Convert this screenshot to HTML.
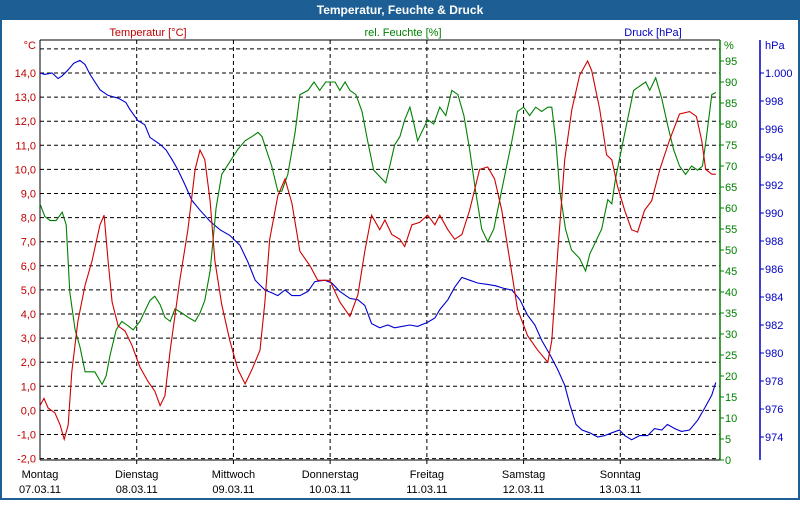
<!DOCTYPE html>
<html><head><meta charset="utf-8"><style>
body{margin:0;width:800px;height:500px;overflow:hidden;background:#fff;font-family:"Liberation Sans",sans-serif}
</style></head><body>
<svg id="chart" width="800" height="500" xmlns="http://www.w3.org/2000/svg" font-family="Liberation Sans, sans-serif" font-size="11">
<rect x="0" y="0" width="800" height="500" fill="#fff"/>
<rect x="1" y="1" width="798" height="498" fill="none" stroke="#1d5f94" stroke-width="2"/>
<rect x="0" y="0" width="800" height="20" fill="#1d5f94"/>
<text x="400" y="14" fill="#fff" font-weight="bold" font-size="12" text-anchor="middle">Temperatur, Feuchte &amp; Druck</text>
<text x="148" y="36" fill="#c00000" text-anchor="middle">Temperatur [°C]</text>
<text x="403" y="36" fill="#008000" text-anchor="middle">rel. Feuchte [%]</text>
<text x="653" y="36" fill="#0000c0" text-anchor="middle">Druck [hPa]</text>
<g id="grid"></g>
<g id="axes"></g>
<g id="series"></g>
</svg>
<script>
const dayNames=["Montag","Dienstag","Mittwoch","Donnerstag","Freitag","Samstag","Sonntag"];
const dayDates=["07.03.11","08.03.11","09.03.11","10.03.11","11.03.11","12.03.11","13.03.11"];
const tempTicks=[-2,-1,0,1,2,3,4,5,6,7,8,9,10,11,12,13,14];
const humTicks=[0,5,10,15,20,25,30,35,40,45,50,55,60,65,70,75,80,85,90,95];
const presTicks=[974,976,978,980,982,984,986,988,990,992,994,996,998,1000];
const tempHours=[0,1,2,3.7,5,6,7,7.9,9.4,11.2,12.9,14.9,15.9,16.9,17.9,19.4,21.1,22.8,24.8,26.8,28.5,29.8,31,32.3,34.7,36.7,38.5,39.7,40.9,42.2,43.4,45.1,47.1,49.1,50.9,52.6,54.6,55.8,57,59,60.8,62.5,64.5,67,68.9,71.9,74.4,76.9,78.9,80.6,82.3,84.3,85.6,87.3,89.3,90.5,92.3,94.2,96.2,98,99.2,101.2,102.9,104.7,106.6,109.1,111.1,112.8,114.6,116.6,118.5,121,123.5,126,127,128.5,130.2,132,133.9,135.9,136.9,138.9,140.6,141.9,143.3,145.1,146.8,148.3,150,151.8,153.8,156.2,158.7,161.2,162.9,164.2,165.2,166.7,167.7];
const tempValues=[0.2,0.5,0.1,-0.1,-0.6,-1.2,-0.6,1.6,3.7,5.2,6.2,7.7,8.1,6.2,4.5,3.5,3.3,2.7,1.8,1.2,0.8,0.2,0.6,2.5,5.4,7.5,10.0,10.8,10.4,8.7,6.2,4.4,2.9,1.7,1.1,1.7,2.5,4.5,7.1,8.9,9.6,8.6,6.6,6.0,5.4,5.4,4.5,3.9,4.8,6.6,8.1,7.5,7.9,7.3,7.1,6.8,7.7,7.8,8.1,7.7,8.1,7.5,7.1,7.3,8.3,10.0,10.1,9.6,8.3,6.2,4.2,3.1,2.5,2.0,2.9,6.6,10.4,12.5,13.9,14.5,14.1,12.5,10.6,10.4,9.3,8.3,7.5,7.4,8.3,8.7,10.0,11.2,12.3,12.4,12.2,11.2,10.0,9.8,9.8];
const humHours=[0,1.2,2.5,4,5.5,6.5,7.4,8.7,9.9,11.2,12.4,13.6,15.4,16.4,17.4,18.9,20.3,21.8,23.1,24.8,26.3,27.3,28.5,29.8,31,32.3,33.5,35.2,36.7,38.5,39.7,40.9,42.2,43.7,45.1,47.1,49.1,50.9,52.6,54.1,55.1,56.1,57.5,59,60,61.5,63.3,64.5,66.5,68,69.4,70.9,73.2,74.4,75.7,76.9,78.4,79.9,81.3,82.8,83.8,84.8,85.8,86.8,88,89.3,90.5,91.8,92.8,93.7,94.7,96.2,97.7,99.2,100.7,102.2,103.7,105.2,106.6,108.1,109.6,111.1,112.6,114.1,115.6,117.1,118.5,120,121.5,123,124.5,126,127,128,129,130.4,131.9,133.9,135.4,136.4,137.9,139.4,140.9,141.9,142.8,144.3,145.8,147.3,148.8,150.3,151.3,152.8,154.3,155.7,157.2,158.7,160.2,161.7,163.2,164.4,165.4,166.7,167.7];
const humValues=[61,58,57,57,59,56,40,31,27,21,21,21,18,20,25,31,33,32,31,33,36,38,39,37,34,33,36,35,34,33,35,38,45,60,68,71,74,76,77,78,77,74,70,64,64,68,78,87,88,90,88,90,90,88,90,88,87,83,76,69,68,67,66,70,75,77,81,84,80,76,78,81,80,84,82,88,87,82,74,64,55,52,55,62,69,76,83,84,82,84,83,84,84,76,64,55,50,48,45,49,52,55,62,61,67,74,81,88,89,90,88,91,86,80,74,70,68,70,69,70,77,87,87.5];
const presHours=[0,1.2,3,4.5,5.5,6.9,8.4,9.9,11.2,12.4,14.9,16.9,19.4,21.3,22.3,24.3,26,27.3,29.8,31.3,32.8,34.2,36,37.7,39.7,42.2,44.7,47.1,49.6,51.6,53.4,55.8,57.5,59,60.8,62.5,64.5,66.5,68.2,70.7,72.4,74.4,76.9,78.9,80.6,82.3,84.3,86.3,88,89.8,91.8,93.7,96.2,98,99.2,101.2,102.9,104.7,106.6,108.6,111.1,113.1,115.3,117.1,119.1,121,122.8,124.5,126.5,128.5,130.2,131.5,133,134.5,136.4,138.4,140.1,141.9,143.8,145.1,146.8,148.8,150.8,152.5,154.3,155.7,157.5,159.2,161.2,163.2,165,166.7,167.7];
const presValues=[1000,999.9,1000,999.6,999.8,1000.2,1000.7,1000.9,1000.6,999.9,998.8,998.4,998.2,997.9,997.4,996.6,996.3,995.4,994.9,994.5,993.8,993.1,992,990.9,990.2,989.4,988.8,988.4,987.7,986.5,985.2,984.5,984.3,984.1,984.5,984.1,984.1,984.4,985.1,985.2,985,984.4,983.9,983.8,983.4,982.1,981.8,982,981.8,981.9,982,981.9,982.2,982.5,983.1,983.8,984.7,985.4,985.2,985,984.9,984.8,984.6,984.5,983.8,982.7,982,980.9,979.9,978.8,977.7,976.3,974.9,974.5,974.3,974,974.1,974.3,974.5,974.1,973.8,974.1,974.1,974.6,974.5,974.9,974.6,974.4,974.5,975.2,976.1,977,977.9];

const NS="http://www.w3.org/2000/svg";
const X0=40,X1=717,TOT=168;
const xS=h=>X0+h/TOT*(X1-X0);
const yT=t=>73+(14-t)*24.1;
const yH=v=>460-v*4.2;
const yP=p=>73+(1000-p)*14;
function mk(tag,attrs,parent,text){const e=document.createElementNS(NS,tag);for(const k in attrs)e.setAttribute(k,attrs[k]);if(text!==undefined)e.textContent=text;parent.appendChild(e);return e;}
const grid=document.getElementById('grid'),axes=document.getElementById('axes'),ser=document.getElementById('series');
// horizontal grid
for(let t=-2;t<=15;t++){
  const l=mk('line',{x1:X0,x2:720,y1:yT(t),y2:yT(t),stroke:'#000','stroke-dasharray':'4,3'},grid);
  
  
}
// vertical grid + day labels
dayNames.forEach((d,i)=>{
  const x=xS(i*24);
  if(i>0){const l=mk('line',{x1:x,x2:x,y1:40,y2:464,stroke:'#000','stroke-dasharray':'4,3'},grid);
    
    }
  const a=mk('text',{x:x,y:478,'text-anchor':'middle',fill:'#000'},axes,d);
  
  
  const b=mk('text',{x:x,y:493,'text-anchor':'middle',fill:'#000'},axes,dayDates[i]);
  
  
});
// axes lines
mk('line',{x1:X0,x2:720,y1:40,y2:40,stroke:'#000'},axes);
mk('line',{x1:X0,x2:720,y1:460,y2:460,stroke:'#000'},axes);
mk('line',{x1:X0,x2:X0,y1:40,y2:460,stroke:'#000'},axes);
mk('line',{x1:720,x2:720,y1:40,y2:460,stroke:'#008000','stroke-width':1.5},axes);
mk('line',{x1:760,x2:760,y1:40,y2:460,stroke:'#0000c0','stroke-width':1.5},axes);
const u1=mk('text',{x:36,y:49,'text-anchor':'end',fill:'#c00000'},axes,'°C');


const u2=mk('text',{x:724,y:49,fill:'#008000'},axes,'%');


const u3=mk('text',{x:765,y:49,fill:'#0000c0'},axes,'hPa');


tempTicks.forEach(t=>{
  const e=mk('text',{x:36,y:yT(t)+4,'text-anchor':'end',fill:'#c00000'},axes,t.toFixed(1).replace('.',','));
  
  
});
humTicks.forEach(h=>{
  mk('line',{x1:720,x2:724,y1:yH(h),y2:yH(h),stroke:'#008000'},axes);
  const e=mk('text',{x:725,y:yH(h)+4,fill:'#008000'},axes,String(h));
  
  
});
presTicks.forEach(p=>{
  mk('line',{x1:760,x2:764,y1:yP(p),y2:yP(p),stroke:'#0000c0'},axes);
  const e=mk('text',{x:765,y:yP(p)+4,fill:'#0000c0'},axes,p===1000?'1.000':String(p));
  
  
});
function line(hs,vs,ys,col,name){
  const d=hs.map((h,i)=>(i?'L':'M')+xS(h).toFixed(1)+','+ys(vs[i]).toFixed(1)).join('');
  const p=mk('path',{d:d,fill:'none',stroke:col,'stroke-width':1.1},ser);
  
  
}
line(presHours,presValues,yP,'#0000d0','pressure-line');
line(humHours,humValues,yH,'#008000','humidity-line');
line(tempHours,tempValues,yT,'#d00000','temperature-line');
</script>
</body></html>
